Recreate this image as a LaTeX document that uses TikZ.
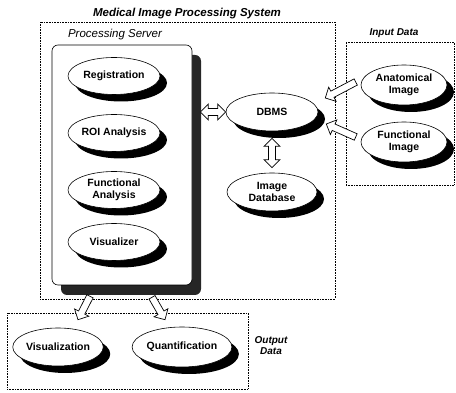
\documentclass[tikz,border=0pt]{standalone}
\usepackage{fontspec}
\setmainfont{Liberation Sans}
\usetikzlibrary{shapes.geometric,shadows,calc}

\tikzset{
  unit/.style={ellipse, draw, fill=white, line width=0.6pt, inner sep=0pt,
    minimum width=92pt, minimum height=37pt, align=center,
    font=\fontsize{10.5}{12.5}\selectfont\bfseries,
    drop shadow={shadow xshift=7pt, shadow yshift=-7pt, fill=black, opacity=1}},
  frame/.style={draw, densely dotted, line width=0.6pt, inner sep=0pt},
  caption/.style={font=\fontsize{10}{11}\selectfont\bfseries\itshape, align=center},
  arrowbody/.style={draw, fill=white, line width=0.7pt, line join=miter},
  % hollow block arrow, one head
  hollow/.style={arrowbody, to path={
    let \p1=(\tikztostart), \p2=(\tikztotarget),
        \n1={atan2(\y2-\y1,\x2-\x1)}, \n2={veclen(\x2-\x1,\y2-\y1)-8} in
    ($(\p1)+(\n1+90:3.5)$) -- ($(\p1)+(\n1:\n2)+(\n1+90:3.5)$)
    -- ($(\p1)+(\n1:\n2)+(\n1+90:8)$) -- (\p2)
    -- ($(\p1)+(\n1:\n2)+(\n1-90:8)$) -- ($(\p1)+(\n1:\n2)+(\n1-90:3.5)$)
    -- ($(\p1)+(\n1-90:3.5)$) -- cycle}},
  % hollow block arrow, two heads
  hollowtwo/.style={arrowbody, to path={
    let \p1=(\tikztostart), \p2=(\tikztotarget),
        \n1={atan2(\y2-\y1,\x2-\x1)}, \n2={veclen(\x2-\x1,\y2-\y1)-8} in
    (\p1) -- ($(\p1)+(\n1:8)+(\n1+90:8)$) -- ($(\p1)+(\n1:8)+(\n1+90:3.5)$)
    -- ($(\p1)+(\n1:\n2)+(\n1+90:3.5)$) -- ($(\p1)+(\n1:\n2)+(\n1+90:8)$) -- (\p2)
    -- ($(\p1)+(\n1:\n2)+(\n1-90:8)$) -- ($(\p1)+(\n1:\n2)+(\n1-90:3.5)$)
    -- ($(\p1)+(\n1:8)+(\n1-90:3.5)$) -- ($(\p1)+(\n1:8)+(\n1-90:8)$) -- cycle}}
}

\begin{document}
\begin{tikzpicture}[x=1pt, y=1pt]
\useasboundingbox (0,0) rectangle (456,393);

% Frames
\node [frame, minimum width=295pt, minimum height=277pt] (system) at (187.5,232.5) {};
\node [frame, minimum width=108pt, minimum height=143pt] (input) at (400,279.5) {};
\node [frame, minimum width=241pt, minimum height=76pt] (output) at (127.5,42) {};

\node [caption, font=\fontsize{11.5}{12}\selectfont\bfseries\itshape] (systitle) at (187,379) {Medical Image Processing System};
\node [caption] (intitle) at (394,360) {Input Data};
\node [caption] (outtitle) at (271,47) {Output\\Data};
\node [font=\fontsize{11.5}{12}\selectfont\itshape] (srvtitle) at (115,358) {Processing Server};

% Processing server
\node [draw, fill=white, line width=0.6pt, rounded corners=6pt,
    minimum width=140pt, minimum height=240pt,
    drop shadow={shadow xshift=9pt, shadow yshift=-10pt, fill=black!85, opacity=1}]
    (srv) at (122,228) {};

\node [unit] (reg) at (114,317) {Registration};
\node [unit] (roi) at (114,260) {ROI Analysis};
\node [unit] (fana) at (114,203) {Functional\\Analysis};
\node [unit] (vis) at (114,151) {Visualizer};

% Database side
\node [unit, minimum height=38pt] (dbms) at (272,281) {DBMS};
\node [unit, minimum width=90pt, minimum height=38pt] (imgdb) at (272,201) {Image\\Database};

% Input data
\node [unit, minimum width=86pt, minimum height=40pt] (anat) at (404,308) {Anatomical\\Image};
\node [unit, minimum width=86pt, minimum height=40pt] (func) at (404,251) {Functional\\Image};

% Output data
\node [unit, minimum width=84pt, minimum height=38pt] (visn) at (58,46) {Visualization};
\node [unit, minimum width=95pt, minimum height=40pt] (quant) at (182,46) {Quantification};

% Arrows
\draw [hollowtwo] ($(srv.east |- dbms.west)+(8,0)$) to (dbms.west);
\draw [hollowtwo] ($(dbms.south)+(0,-7)$) to ($(imgdb.north)+(0,5)$);
\draw [hollow] ($(anat.west)+(-5,3)$) to ($(dbms.east)+(7,14)$);
\draw [hollow] ($(func.west)+(-5,5)$) to ($(dbms.east)+(8,-12)$);
\draw [hollow] ($(srv.south)+(-32,-11)$) to ($(visn.north)+(20,8)$);
\draw [hollow] ($(srv.south)+(30,-12)$) to ($(quant.north)+(-17,7)$);

\end{tikzpicture}
\end{document}
